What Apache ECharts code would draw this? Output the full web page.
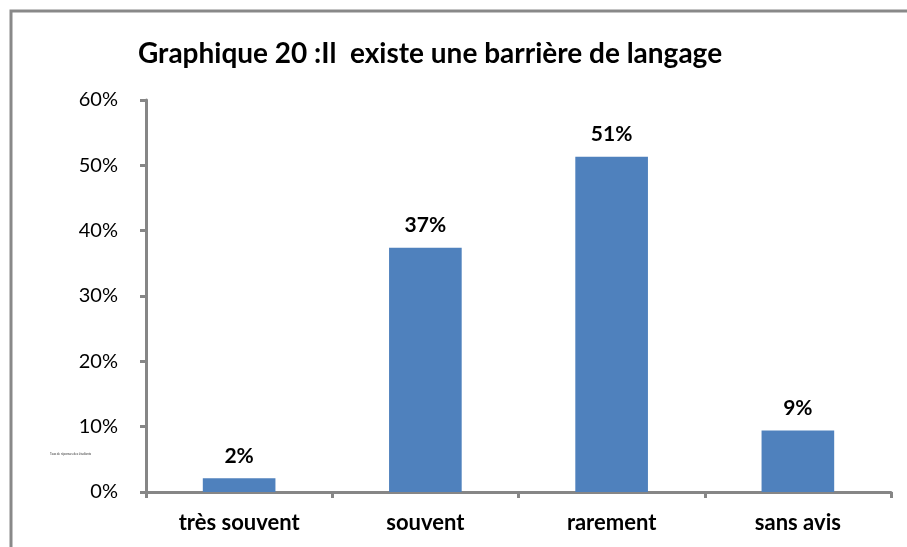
<!DOCTYPE html>
<html>
<head>
<meta charset="utf-8">
<script src="https://cdn.jsdelivr.net/npm/echarts@6/dist/echarts.min.js"></script>
<style>
  html, body { margin: 0; padding: 0; background: #fff; }
  #chart { width: 907px; height: 547px; }
</style>
</head>
<body>
<div id="chart"></div>
<script>
'use strict';

// données
const categories = ['très souvent', 'souvent', 'rarement', 'sans avis'];
const values = [2.1, 37.4, 51.3, 9.4];
const yTicks = { min: 0, max: 60, interval: 10 };
const titleText = 'Graphique 20 :Il  existe une barrière de langage';
const yName = 'Taux de réponses des étudiants';

const FONT = 'Lato, "Open Sans", sans-serif';
const AXIS = '#868686';

const chart = echarts.init(document.getElementById('chart'), null, { renderer: 'canvas' });

chart.setOption({
  animation: false,
  backgroundColor: '#fff',
  title: {
    text: titleText,
    left: 133, top: 35,
    textStyle: { fontFamily: FONT, fontSize: 28, fontWeight: 'bold', color: '#000' }
  },
  graphic: [
    { type: 'rect', shape: { x: 11, y: 11, width: 1200, height: 1200 },
      style: { fill: 'none', stroke: '#898989', lineWidth: 3 }, silent: true },
    { type: 'text', left: 50, top: 453,
      style: { text: yName, fontSize: 3, fill: '#333', fontFamily: FONT } }
  ],
  grid: { left: 146, right: 16, top: 100, bottom: 55 },
  xAxis: {
    type: 'category',
    data: categories,
    axisLine: { lineStyle: { color: AXIS, width: 3 } },
    axisTick: { show: true, length: 6, lineStyle: { color: AXIS, width: 3 } },
    axisLabel: { color: '#000', fontFamily: FONT, fontSize: 22, fontWeight: 'bold', margin: 20 }
  },
  yAxis: {
    type: 'value',
    min: yTicks.min, max: yTicks.max, interval: yTicks.interval,
    axisLine: { show: true, lineStyle: { color: AXIS, width: 3 } },
    axisTick: { show: true, length: 6, lineStyle: { color: AXIS, width: 3 } },
    splitLine: { show: false },
    axisLabel: { color: '#000', fontFamily: FONT, fontSize: 20, margin: 28,
      formatter: (v) => v + '%' }
  },
  series: [{
    type: 'bar',
    data: values,
    barCategoryGap: '61%',
    itemStyle: { color: '#4F81BD' },
    label: {
      show: true, position: 'top', distance: 12,
      color: '#000', fontFamily: FONT, fontSize: 21, fontWeight: 'bold',
      formatter: (p) => Math.round(p.value) + '%'
    }
  }]
});
</script>
</body>
</html>
